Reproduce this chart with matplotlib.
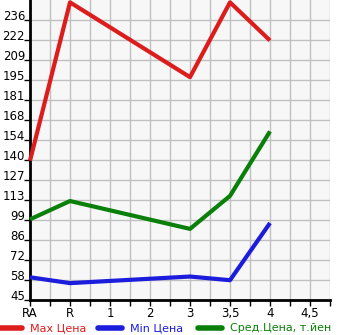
import matplotlib
matplotlib.use("Agg")
import matplotlib.pyplot as plt
from matplotlib.lines import Line2D
from matplotlib.transforms import ScaledTranslation
import numpy as np

categories = ["RA", "R", "1", "2", "3", "3,5", "4", "4,5"]
max_x = [0, 1, 4, 5, 6]
max_vals = [140, 248, 197, 248, 222]
min_x = [0, 1, 4, 5, 6]
min_vals = [60.5, 56.5, 61, 58.5, 97.5]
avg_x = [0, 1, 4, 5, 6]
avg_vals = [100, 112.5, 93.5, 116, 160]
ytick_labels = ["45", "58", "72", "86", "99", "113", "127", "140", "154",
                "168", "181", "195", "209", "222", "236"]
legend_labels = ["Max Цена", "Min Цена", "Сред.Цена, т.йен"]
colors = ["#dd1c1c", "#1c1cdd", "#0a800a"]

W, H = 345, 335
fig = plt.figure(figsize=(W / 100, H / 100), dpi=100)
ax = fig.add_axes([30 / W, 35 / H, 300 / W, 300 / H])
ax.set_facecolor("#f7f7f7")

y0, step = 45.0, 13.64
ax.set_ylim(y0, y0 + 15 * step)
ax.set_xlim(0, 7.5)

ax.plot(max_x, max_vals, color=colors[0], lw=3, solid_capstyle="butt", zorder=3, clip_on=False)
ax.plot(min_x, min_vals, color=colors[1], lw=3, solid_capstyle="butt", zorder=3, clip_on=False)
ax.plot(avg_x, avg_vals, color=colors[2], lw=3, solid_capstyle="butt", zorder=3, clip_on=False)

ax.set_xticks(np.arange(len(categories)))
ax.set_xticklabels(categories, fontsize=8.5)
ax.set_xticks(np.arange(0.5, 7.6, 0.5), minor=True)
yt = [y0 + i * step for i in range(15)]
ax.set_yticks(yt)
ax.set_yticklabels([])
ax.grid(True, which="both", color="#c0c0c0", lw=1)
ax.set_axisbelow(True)
ax.tick_params(axis="both", which="both", length=4, width=1, color="black")
ax.tick_params(axis="x", pad=1)
ax.tick_params(axis="x", which="minor", labelbottom=False)
for s in ["top", "right"]:
    ax.spines[s].set_visible(False)
for s in ["left", "bottom"]:
    ax.spines[s].set_linewidth(2)
    ax.spines[s].set_color("black")

# y tick labels, drawn slightly above their ticks as in the reference
off = ScaledTranslation(-5 / 100, 4 / 100, fig.dpi_scale_trans)
ytr = ax.get_yaxis_transform() + off
for v, lab in zip(yt, ytick_labels):
    ax.text(0, v, lab, transform=ytr, ha="right", va="center", fontsize=8.5, clip_on=False)

# legend row
ly = 1 - 328 / H
xs = [(0, 22, 30), (98, 122, 130), (198, 222, 230)]
for (a, b, t), lab, c in zip(xs, legend_labels, colors):
    fig.add_artist(Line2D([a / W, b / W], [ly, ly], color=c, lw=4, solid_capstyle="round"))
    fig.text(t / W, ly, lab, color=c, fontsize=8, va="center", ha="left")

fig.savefig("out.png", dpi=100)
